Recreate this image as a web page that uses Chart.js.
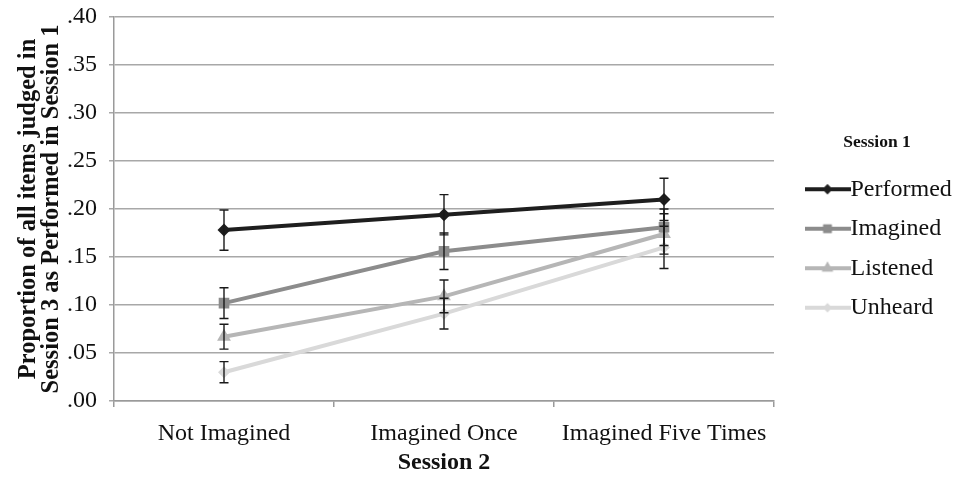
<!DOCTYPE html>
<html>
<head>
<meta charset="utf-8">
<script src="https://cdn.jsdelivr.net/npm/chart.js@4/dist/chart.umd.min.js"></script>
<style>
  html, body { margin: 0; padding: 0; background: #fff; }
  #wrap { width: 953px; height: 477px; }
</style>
</head>
<body>
<div id="wrap"><canvas id="chart" width="953" height="477"></canvas></div>
<script>
// categories on the x axis (Session 2)
var CATEGORIES = ['Not Imagined', 'Imagined Once', 'Imagined Five Times'];
var SERIES_NAMES = ['Performed', 'Imagined', 'Listened', 'Unheard'];

// proportions, with error bar half-widths
var PERFORMED = [0.178, 0.194, 0.210];
var PERFORMED_ERR = [0.021, 0.021, 0.022];
var IMAGINED = [0.102, 0.156, 0.181];
var IMAGINED_ERR = [0.016, 0.019, 0.019];
var LISTENED = [0.067, 0.109, 0.174];
var LISTENED_ERR = [0.013, 0.017, 0.021];
var UNHEARD = [0.030, 0.091, 0.160];
var UNHEARD_ERR = [0.011, 0.016, 0.022];

var Y_TICKS = ['.00', '.05', '.10', '.15', '.20', '.25', '.30', '.35', '.40'];

var COLORS = ['#1e1e1e', '#8c8c8c', '#b6b6b6', '#d9d9d9'];
var MARKERS = ['rectRot', 'rect', 'triangle', 'rectRot'];
var MARKER_SIZE = [6.5, 7.5, 8, 6];

var FONT = '"Liberation Serif", "Times New Roman", serif';

function legendIcon(i) {
    // little line + marker image used as legend point style
    let c = document.createElement('canvas');
    c.width = 46;
    c.height = 14;
    let ctx = c.getContext('2d');
    ctx.strokeStyle = COLORS[i];
    ctx.lineWidth = 4;
    ctx.beginPath();
    ctx.moveTo(0, 7);
    ctx.lineTo(46, 7);
    ctx.stroke();
    ctx.fillStyle = COLORS[i];
    Chart.helpers.drawPoint(ctx, {pointStyle: MARKERS[i], radius: MARKER_SIZE[i] - 1.5, borderWidth: 0}, 23, 7);
    ctx.fill();
    return c;
}

function makeDataset(i, values, errs) {
    return {
        label: SERIES_NAMES[i],
        data: values,
        errors: errs,
        borderColor: COLORS[i],
        backgroundColor: COLORS[i],
        borderWidth: 4,
        pointStyle: MARKERS[i],
        pointRadius: MARKER_SIZE[i],
        pointBorderWidth: 0,
        tension: 0,
    };
}

// draws the vertical error bars with caps, using the chart's own y scale
var errorBars = {
    id: 'errorBars',
    afterDatasetsDraw: function (chart) {
        let ctx = chart.ctx;
        let yScale = chart.scales.y;
        ctx.save();
        ctx.strokeStyle = '#1a1a1a';
        ctx.lineWidth = 1.4;
        chart.data.datasets.forEach(function (ds, di) {
            let meta = chart.getDatasetMeta(di);
            meta.data.forEach(function (pt, i) {
                let v = ds.data[i], e = ds.errors[i];
                let top = yScale.getPixelForValue(v + e);
                let bot = yScale.getPixelForValue(v - e);
                ctx.beginPath();
                ctx.moveTo(pt.x, top);
                ctx.lineTo(pt.x, bot);
                ctx.moveTo(pt.x - 4.5, top);
                ctx.lineTo(pt.x + 4.5, top);
                ctx.moveTo(pt.x - 4.5, bot);
                ctx.lineTo(pt.x + 4.5, bot);
                ctx.stroke();
            });
        });
        ctx.restore();
    }
};

var chartObject = {
    type: 'line',
    data: {
        labels: CATEGORIES,
        datasets: [
            makeDataset(0, PERFORMED, PERFORMED_ERR),
            makeDataset(1, IMAGINED, IMAGINED_ERR),
            makeDataset(2, LISTENED, LISTENED_ERR),
            makeDataset(3, UNHEARD, UNHEARD_ERR),
        ]
    },
    options: {
        responsive: false,
        animation: false,
        layout: {padding: {top: 17, right: 0, bottom: 0, left: 0}},
        plugins: {
            tooltip: {enabled: false},
            legend: {
                position: 'right',
                align: 'center',
                fullSize: false,
                maxWidth: 152,
                title: {
                    display: true,
                    text: 'Session 1',
                    color: '#111',
                    font: {family: FONT, size: 17.5, weight: 'bold'},
                    padding: {top: 51, bottom: 7},
                },
                labels: {
                    usePointStyle: true,
                    pointStyleWidth: 22,
                    boxHeight: 14,
                    padding: 15.5,
                    color: '#111',
                    font: {family: FONT, size: 24},
                    generateLabels: function (chart) {
                        return chart.data.datasets.map(function (ds, i) {
                            return {
                                text: ds.label,
                                pointStyle: legendIcon(i),
                                fillStyle: COLORS[i],
                                strokeStyle: COLORS[i],
                                lineWidth: 0,
                                datasetIndex: i,
                                fontColor: '#111',
                            };
                        });
                    }
                }
            }
        },
        scales: {
            x: {
                offset: true,
                border: {color: '#9a9a9a', width: 1.5},
                grid: {drawOnChartArea: false, offset: true, tickLength: 6, color: '#9a9a9a', lineWidth: 1.5},
                ticks: {color: '#111', font: {family: FONT, size: 24}, padding: 12, maxRotation: 0},
                title: {
                    display: true,
                    text: 'Session 2',
                    color: '#111',
                    font: {family: FONT, size: 24, weight: 'bold'},
                    padding: {top: 0, bottom: 0},
                },
                afterFit: function (scale) {
                    scale.height = 76;
                }
            },
            y: {
                min: 0,
                max: 0.40,
                border: {color: '#9a9a9a', width: 1.5},
                grid: {color: '#a8a8a8', lineWidth: 1.5, tickLength: 5},
                ticks: {
                    stepSize: 0.05,
                    color: '#111',
                    font: {family: FONT, size: 24},
                    padding: 12,
                    callback: function (value, index) {
                        return Y_TICKS[index];
                    }
                },
                title: {
                    display: true,
                    text: ['Proportion of all items judged in', 'Session 3 as Performed in Session 1'],
                    color: '#111',
                    font: {family: FONT, size: 24.5, weight: 'bold', lineHeight: 0.95},
                    padding: {top: 17, bottom: 0},
                },
                afterFit: function (scale) {
                    scale.width = 114;
                    // the top label may hang over the canvas edge a little
                    scale.paddingTop = 0;
                    scale.paddingBottom = 0;
                }
            },
            // empty spacer between plot and legend
            gap: {
                type: 'linear',
                position: 'right',
                display: true,
                grid: {display: false},
                border: {display: false},
                ticks: {display: false},
                afterFit: function (scale) {
                    scale.width = 27;
                    scale.paddingTop = 0;
                    scale.paddingBottom = 0;
                }
            }
        }
    },
    plugins: [errorBars]
};

new Chart(document.getElementById('chart'), chartObject);
</script>
</body>
</html>
